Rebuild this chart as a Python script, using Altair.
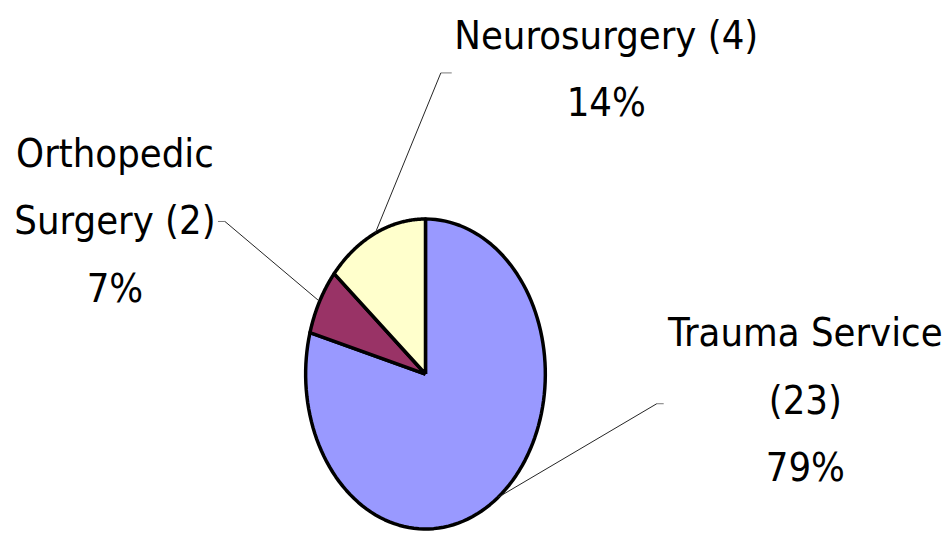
import altair as alt
import pandas as pd

# ---- data ----
categories = ["Trauma Service", "Orthopedic Surgery", "Neurosurgery"]
counts = [23, 2, 4]
colors = ["#9999FF", "#993366", "#FFFFCC"]

# ---- layout (page pixel positions of the reference, converted to pie units) ----
CX, CY, RX, RY = 429.5, 375.0, 121.0, 156.5
W, H = 935, 512


def ux(px):
    return (px - CX) / RX


def vy(py):
    return (CY - py) / RY


label_layout = {
    "Trauma Service": dict(lx=813, ly=347, wrap=["Trauma Service", "({n})", "{p}%"],
                           t0=670, t1=663, ty=405),
    "Orthopedic Surgery": dict(lx=116, ly=166, wrap=["Orthopedic", "Surgery ({n})", "{p}%"],
                               t0=220, t1=227, ty=221),
    "Neurosurgery": dict(lx=612, ly=47, wrap=["Neurosurgery ({n})", "{p}%"],
                         t0=456, t1=445, ty=71),
}

total = sum(counts)
rows = []
for i, (c, n) in enumerate(zip(categories, counts)):
    L = label_layout[c]
    p = round(100 * n / total)
    rows.append(dict(
        category=c, count=n, order=i,
        label=[s.format(n=n, p=p) for s in L["wrap"]],
        lx=ux(L["lx"]), ly=vy(L["ly"]),
        t0=ux(L["t0"]), t1=ux(L["t1"]), ty=vy(L["ty"]),
    ))
df = pd.DataFrame(rows)

N = 120
xscale = alt.Scale(domain=[ux(8), ux(8 + W)], range=[0, W], nice=False, zero=False)
yscale = alt.Scale(domain=[vy(8 + H), vy(8)], range=[H, 0], nice=False, zero=False)
noax = None

base = alt.Chart(df).transform_joinaggregate(
    total="sum(count)"
).transform_window(
    cum="sum(count)", sort=[alt.SortField("order")], frame=[None, 0]
).transform_calculate(
    a0="2*PI*(datum.cum - datum.count)/datum.total",
    a1="2*PI*datum.cum/datum.total",
)

slices = base.transform_calculate(
    steps=f"sequence(0, {N + 3})"
).transform_flatten(
    ["steps"], as_=["idx"]
).transform_calculate(
    t=f"clamp((datum.idx - 1)/{N}, 0, 1)",
    r=f"(datum.idx == 0 || datum.idx == {N + 2}) ? 0 : 1",
).transform_calculate(
    ang="datum.a0 + (datum.a1 - datum.a0)*datum.t",
).transform_calculate(
    px="datum.r*sin(datum.ang)",
    py="datum.r*cos(datum.ang)",
).mark_line(stroke="black", strokeWidth=3.5, strokeJoin="round", interpolate="linear").encode(
    x=alt.X("px:Q", scale=xscale, axis=noax),
    y=alt.Y("py:Q", scale=yscale, axis=noax),
    fill=alt.Fill("category:N", scale=alt.Scale(domain=categories, range=colors), legend=None),
    detail="category:N",
    order=alt.Order("idx:Q"),
)

leaders = base.transform_calculate(
    mid="(datum.a0 + datum.a1)/2"
).transform_calculate(
    ex="sin(datum.mid)", ey="cos(datum.mid)"
)

leader_diag = leaders.mark_rule(color="#222222", strokeWidth=1).encode(
    x=alt.X("t1:Q", scale=xscale, axis=noax),
    y=alt.Y("ty:Q", scale=yscale, axis=noax),
    x2="ex:Q", y2="ey:Q",
)
leader_tick = leaders.mark_rule(color="#777777", strokeWidth=1).encode(
    x=alt.X("t0:Q", scale=xscale, axis=noax),
    y=alt.Y("ty:Q", scale=yscale, axis=noax),
    x2="t1:Q",
)

labels = alt.Chart(df).mark_text(
    font="DejaVu Sans Condensed, sans-serif",
    fontSize=40, align="center", baseline="alphabetic", lineHeight=68, color="black",
).encode(
    x=alt.X("lx:Q", scale=xscale, axis=noax),
    y=alt.Y("ly:Q", scale=yscale, axis=noax),
    text="label",
)

chart = alt.layer(slices, leader_tick, leader_diag, labels).properties(
    width=W, height=H, padding=0, background="white"
).configure_view(stroke=None)

chart.save("out.html", embed_options={"renderer": "svg", "actions": False})
